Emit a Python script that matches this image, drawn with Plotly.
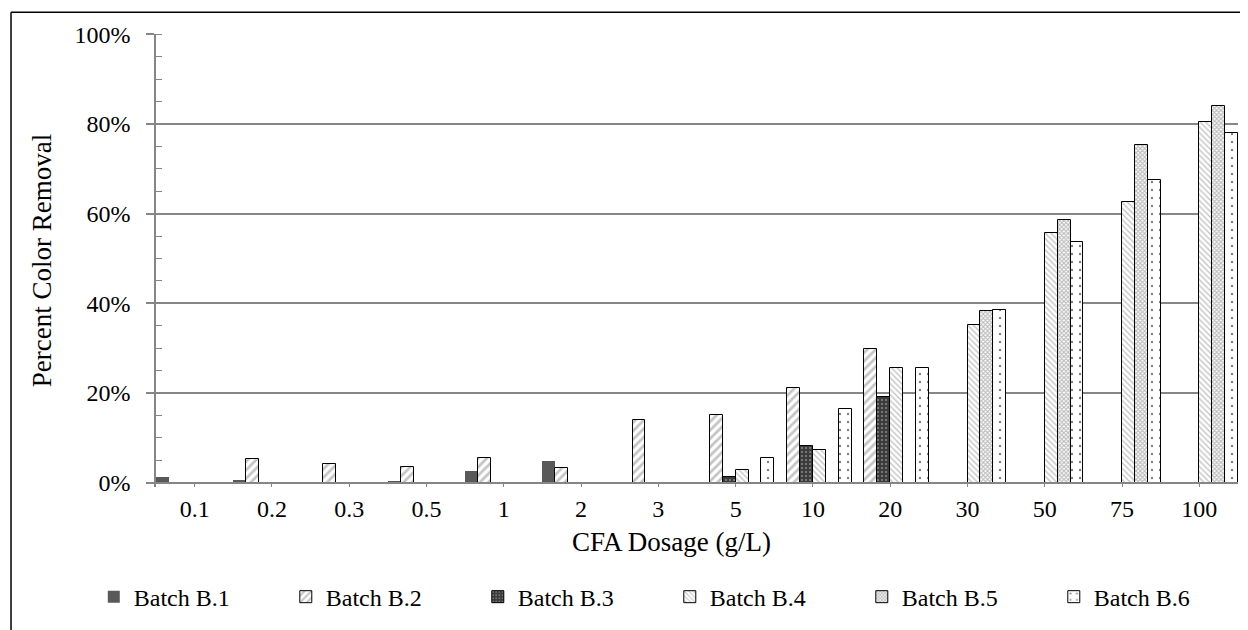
import plotly.graph_objects as go

categories = ["0.1", "0.2", "0.3", "0.5", "1", "2", "3", "5", "10", "20", "30", "50", "75", "100"]
series_names = ["Batch B.1", "Batch B.2", "Batch B.3", "Batch B.4", "Batch B.5", "Batch B.6"]

b1 = [1.3, 0.6, -0.3, 0.4, 2.6, 4.9, None, None, None, None, None, None, None, None]
b2 = [None, 5.2, 4.1, 3.5, 5.4, 3.3, 13.9, 15.1, 21.0, 29.8, None, None, None, None]
b3 = [None, None, -0.3, -0.3, -0.3, -0.3, None, 1.2, 8.1, 19.0, None, None, None, None]
b4 = [None, None, None, None, None, None, -0.3, 2.8, 7.35, 25.6, 35.2, 55.7, 62.7, 80.5]
b5 = [None, None, None, None, None, None, None, None, None, None, 38.2, 58.7, 75.3, 84.0]
b6 = [None, None, None, None, None, None, None, 5.45, 16.3, 25.5, 38.5, 53.6, 67.5, 78.0]
values = [b1, b2, b3, b4, b5, b6]

y_ticks = [0, 20, 40, 60, 80, 100]
y_tick_text = ["0%", "20%", "40%", "60%", "80%", "100%"]

styles = [
    dict(color="#595959", line=dict(color="#595959", width=0), pattern=None),
    dict(color="white", line=dict(color="black", width=1),
         pattern=dict(shape="/", fgcolor="#8a8a8a", bgcolor="white", size=6, solidity=0.45)),
    dict(color="#3c3c3c", line=dict(color="black", width=1),
         pattern=dict(shape=".", fgcolor="#d8d8d8", bgcolor="#3c3c3c", size=4, solidity=0.2)),
    dict(color="white", line=dict(color="black", width=1),
         pattern=dict(shape="\\", fgcolor="#8a8a8a", bgcolor="white", size=4, solidity=0.35)),
    dict(color="white", line=dict(color="black", width=1),
         pattern=dict(shape="x", fgcolor="#7a7a7a", bgcolor="white", size=3, solidity=0.6)),
    dict(color="white", line=dict(color="black", width=1),
         pattern=dict(shape=".", fgcolor="black", bgcolor="white", size=8, solidity=0.07)),
]

FONT = "Liberation Serif, Times New Roman, serif"
GRAY = "#868686"

fig = go.Figure()
for name, vals, st in zip(series_names, values, styles):
    marker = dict(color=st["color"], line=st["line"])
    if st["pattern"] is not None:
        marker["pattern"] = st["pattern"]
    fig.add_trace(go.Bar(x=categories, y=vals, name=name, marker=marker))

# page body has an 8px margin, so the figure is laid out 8px up/left
fig.update_layout(
    width=1240, height=622,
    margin=dict(l=148, r=10, t=26, b=138),
    paper_bgcolor="white", plot_bgcolor="white",
    barmode="group", bargap=0, bargroupgap=0,
    font=dict(family=FONT, size=24, color="black"),
    showlegend=True,
    legend=dict(orientation="h", x=-0.0575, xanchor="left", y=-0.243, yanchor="middle",
                font=dict(family=FONT, size=24), itemwidth=30,
                entrywidth=147, entrywidthmode="pixels", traceorder="normal"),
    xaxis=dict(type="category", anchor="free", position=1 / 101.1,
               showline=True, linecolor=GRAY, linewidth=1.5,
               ticks="outside", ticklen=4, tickcolor=GRAY, tickwidth=1.2,
               showgrid=False, tickfont=dict(family=FONT, size=24),
               ticklabelstandoff=1),
    yaxis=dict(range=[-1, 100.1], tickvals=y_ticks, ticktext=y_tick_text,
               showline=True, linecolor=GRAY, linewidth=1.5,
               ticks="outside", ticklen=8, tickcolor=GRAY, tickwidth=1.5,
               showgrid=True, gridcolor=GRAY, gridwidth=1.5, zeroline=False,
               minor=dict(dtick=5, tick0=0, ticks="inside", ticklen=6, tickcolor=GRAY, tickwidth=1.2, showgrid=False),
               tickfont=dict(family=FONT, size=24), ticklabelstandoff=11,
               title=dict(text="Percent Color Removal", font=dict(family=FONT, size=27), standoff=15)),
    annotations=[
        dict(text="CFA Dosage (g/L)", xref="paper", yref="paper", x=0.476, y=-0.085,
             xanchor="center", yanchor="top", showarrow=False, borderpad=0,
             font=dict(family=FONT, size=27, color="black")),
    ],
    shapes=[
        dict(type="line", xref="paper", yref="paper", x0=-0.134, x1=1.2, y0=1.048, y1=1.048,
             line=dict(color="black", width=1.5)),
        dict(type="line", xref="paper", yref="paper", x0=-0.134, x1=-0.134, y0=1.048, y1=-0.4,
             line=dict(color="black", width=1.5)),
    ],
)

fig.write_html("out.html")
